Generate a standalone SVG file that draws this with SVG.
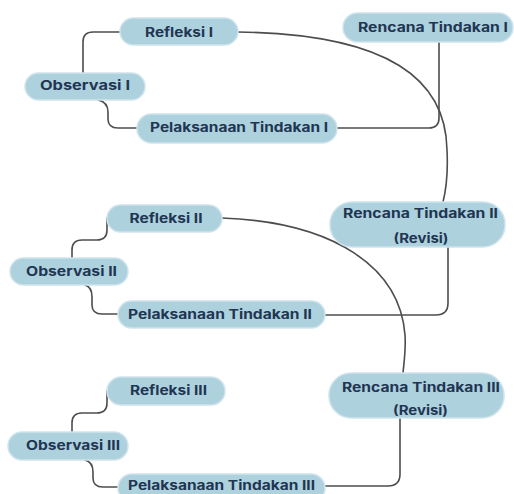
<svg xmlns="http://www.w3.org/2000/svg" width="514" height="494" viewBox="0 0 514 494">
<style>
.node rect{fill:#aed1de;stroke:#cfe4ec;stroke-width:1.5}
.node text{font-family:Inter,"Open Sans","Liberation Sans",sans-serif;font-weight:700;font-size:13px;fill:#1f3652;text-anchor:middle}
.edges path{fill:none;stroke:#4d4d4d;stroke-width:1.6;stroke-linecap:round}
</style>
<rect width="514" height="494" fill="#ffffff"/>
<g class="edges" id="connectors">
<path d="M83,73 L83,42 Q83,32 93,32 L120,32"/>
<path d="M98,100 Q108,102 108,112 L108,119 Q108,128 118,128 L137,128"/>
<path d="M337,128 L429,128 Q439,128 439,118 L439,42"/>
<path d="M238,32 C390,34 446,80 447,150 C448,170 447,186 443,202"/>
<path d="M72,258 L72,250 Q72,240 82,240 L97,240 Q107,240 107,230 L107,218"/>
<path d="M85,285 Q92,287 92,297 L92,305 Q92,314 102,314 L118,314"/>
<path d="M325,315 L436,315 Q448,315 448,303 L448,247"/>
<path d="M222,218 C335,222 400,268 405,335 C406,350 404,362 403,373"/>
<path d="M72,432 L72,423 Q72,413 82,413 L97,413 Q107,413 107,403 L107,391"/>
<path d="M85,460 Q93,462 93,472 L93,478 Q93,487 103,487 L118,487"/>
<path d="M325,486 L388,486 Q400,486 400,474 L400,418"/>
</g>
<g class="node" id="refleksi1"><rect x="120" y="18" width="118" height="27" rx="13.5"/><text x="179" y="37" textLength="68" lengthAdjust="spacingAndGlyphs">Refleksi I</text></g>
<g class="node" id="rencana1"><rect x="343" y="13" width="170" height="29" rx="14.5"/><text x="433" y="32" textLength="150" lengthAdjust="spacingAndGlyphs">Rencana Tindakan I</text></g>
<g class="node" id="observasi1"><rect x="25" y="73" width="120" height="27" rx="13.5"/><text x="85" y="90" textLength="90" lengthAdjust="spacingAndGlyphs">Observasi I</text></g>
<g class="node" id="pelaksanaan1"><rect x="137" y="114" width="200" height="29" rx="14.5"/><text x="239" y="132" textLength="178" lengthAdjust="spacingAndGlyphs">Pelaksanaan Tindakan I</text></g>
<g class="node" id="refleksi2"><rect x="107" y="205" width="115" height="27" rx="13.5"/><text x="166" y="222.5" textLength="73" lengthAdjust="spacingAndGlyphs">Refleksi II</text></g>
<g class="node" id="rencana2"><rect x="330" y="202" width="175" height="45" rx="22"/><text x="420.5" y="217.5" textLength="155" lengthAdjust="spacingAndGlyphs">Rencana Tindakan II</text><text x="421" y="242.5" textLength="55" lengthAdjust="spacingAndGlyphs">(Revisi)</text></g>
<g class="node" id="observasi2"><rect x="10" y="258" width="118" height="27" rx="13.5"/><text x="71.5" y="275.5" textLength="91" lengthAdjust="spacingAndGlyphs">Observasi II</text></g>
<g class="node" id="pelaksanaan2"><rect x="118" y="301" width="207" height="27" rx="13.5"/><text x="220" y="318.5" textLength="184" lengthAdjust="spacingAndGlyphs">Pelaksanaan Tindakan II</text></g>
<g class="node" id="refleksi3"><rect x="107" y="377" width="118" height="28" rx="14"/><text x="168.5" y="395" textLength="77" lengthAdjust="spacingAndGlyphs">Refleksi III</text></g>
<g class="node" id="rencana3"><rect x="329" y="373" width="175" height="45" rx="22"/><text x="421" y="392" textLength="158" lengthAdjust="spacingAndGlyphs">Rencana Tindakan III</text><text x="420.5" y="414.5" textLength="55" lengthAdjust="spacingAndGlyphs">(Revisi)</text></g>
<g class="node" id="observasi3"><rect x="8" y="432" width="120" height="28" rx="14"/><text x="73" y="450" textLength="94" lengthAdjust="spacingAndGlyphs">Observasi III</text></g>
<g class="node" id="pelaksanaan3"><rect x="118" y="474" width="207" height="28" rx="14"/><text x="221.5" y="489.5" textLength="187" lengthAdjust="spacingAndGlyphs">Pelaksanaan Tindakan III</text></g>
</svg>
